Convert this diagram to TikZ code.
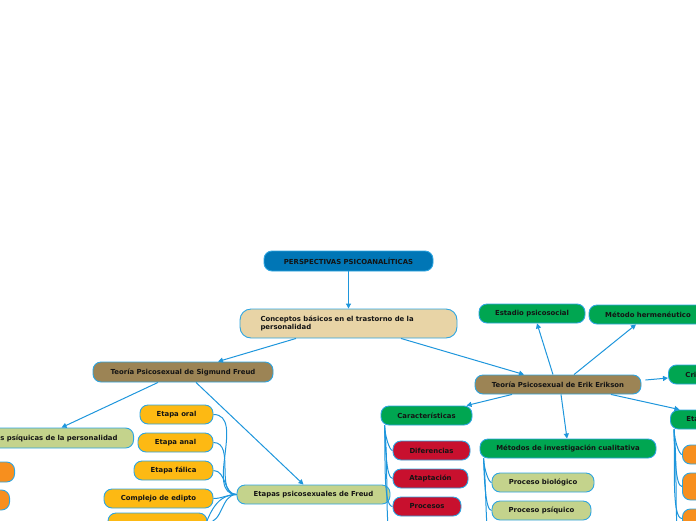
\documentclass[tikz,border=0pt]{standalone}
\usepackage{fontspec}
\setmainfont{DejaVu Sans}
\usetikzlibrary{arrows.meta}
\definecolor{cblue}{RGB}{0,118,182}
\definecolor{ctan}{RGB}{232,212,166}
\definecolor{cbrown}{RGB}{156,132,85}
\definecolor{clgreen}{RGB}{196,211,140}
\definecolor{cyellow}{RGB}{253,185,19}
\definecolor{corange}{RGB}{247,143,30}
\definecolor{cgreen}{RGB}{0,166,81}
\definecolor{cred}{RGB}{200,16,46}
\definecolor{cbord}{RGB}{45,165,225}
\definecolor{cline}{RGB}{30,150,220}
\definecolor{ctxt}{RGB}{20,20,20}
\tikzset{
  mm/.style={draw=cbord, line width=0.9pt, rounded corners=8pt, inner sep=0pt,
    minimum height=19pt, font=\fontsize{6.9}{8.6}\bfseries\selectfont, text=ctxt},
  arr/.style={draw=cline, line width=1pt, -{Triangle[length=5pt,width=5pt]}},
  lnk/.style={draw=cline, line width=1pt},
  sub/.style={lnk, out=-88, in=180, out looseness=1, in looseness=0.3},
  stg/.style={lnk, out=180, in=0}
}
\begin{document}
\begin{tikzpicture}[x=1pt,y=-1pt]
\useasboundingbox (0,0) rectangle (696,520);

% main nodes
\node[mm, fill=cblue, minimum width=169pt, minimum height=20pt] (pp) at (348.5,261) {PERSPECTIVAS PSICOANALÍTICAS};
\node[mm, fill=ctan, minimum width=217pt, minimum height=29pt, rounded corners=11pt, text width=176pt, align=left] (co) at (348.5,323.5) {Conceptos básicos en el trastorno de la\\personalidad};
\node[mm, fill=cbrown, minimum width=180pt, minimum height=20pt] (fr) at (183,372) {Teoría Psicosexual de Sigmund Freud};
\node[mm, fill=cbrown, minimum width=166pt] (er) at (558,384.5) {Teoría Psicosexual de Erik Erikson};

% Freud branch
\node[mm, fill=clgreen, anchor=east, text width=184pt, align=right, inner xsep=16pt, minimum height=20pt] (psi) at (134,438) {s psíquicas de la personalidad};
\node[mm, fill=corange, anchor=east, minimum width=40pt, minimum height=20pt] (o1) at (15,472) {};
\node[mm, fill=corange, anchor=east, minimum width=40pt, minimum height=20pt] (o2) at (10,500) {};
\node[mm, fill=clgreen, minimum width=153pt] (et) at (313.5,494.5) {Etapas psicosexuales de Freud};
\node[mm, fill=cyellow, minimum width=73pt] (y1) at (176.5,414.5) {Etapa oral};
\node[mm, fill=cyellow, minimum width=75pt] (y2) at (175.5,442.5) {Etapa anal};
\node[mm, fill=cyellow, minimum width=79pt] (y3) at (173.5,470.5) {Etapa fálica};
\node[mm, fill=cyellow, minimum width=109pt] (y4) at (158.5,498.5) {Complejo de edipto};
\node[mm, fill=cyellow, minimum width=99pt] (y5) at (157.5,522.5) {};
\coordinate (yx) at (200,540);

% Erikson branch
\node[mm, fill=cgreen, minimum width=106pt] (es) at (532,313.5) {Estadio psicosocial};
\node[mm, fill=cgreen, minimum width=118pt] (mh) at (648,314.5) {Método hermenéutico};
\node[mm, fill=cgreen, anchor=west, text width=40pt, align=left, inner xsep=17pt] (cr) at (668,374.5) {Cri};
\node[mm, fill=cgreen, anchor=west, text width=40pt, align=left, inner xsep=16pt] (ea) at (670,419.5) {Eta};
\node[mm, fill=corange, anchor=west, minimum width=40pt] (r1) at (682,454.5) {};
\node[mm, fill=corange, anchor=west, minimum width=40pt, minimum height=27pt] (r2) at (682,486.5) {};
\node[mm, fill=corange, anchor=west, minimum width=40pt] (r3) at (682,518.5) {};
\coordinate (rx) at (678,540);

\node[mm, fill=cgreen, minimum width=91pt] (car) at (426.5,415.5) {Características};
\node[mm, fill=cred, minimum width=77pt] (d1) at (431.5,450.5) {Diferencias};
\node[mm, fill=cred, minimum width=75pt] (d2) at (430.5,478.5) {Ataptación};
\node[mm, fill=cred, minimum width=68pt] (d3) at (427,506.5) {Procesos};
\coordinate (dx) at (389,540);

\node[mm, fill=cgreen, minimum width=176pt] (met) at (568,448.5) {Métodos de investigación cualitativa};
\node[mm, fill=clgreen, minimum width=102pt] (m1) at (543,482.5) {Proceso biológico};
\node[mm, fill=clgreen, minimum width=99pt] (m2) at (541.5,510.5) {Proceso psíquico};
\coordinate (mx) at (488,540);

% arrows
\draw[arr] (pp.south) -- (co.north);
\draw[arr] ([xshift=-52.5pt]co.south) -- ([xshift=35pt]fr.north);
\draw[arr] ([xshift=52.5pt]co.south) -- ([xshift=-34pt]er.north);
\draw[arr] ([xshift=-25pt]fr.south) -- ([xshift=36pt]psi.north);
\draw[arr] ([xshift=13pt]fr.south) -- ([xshift=-10pt]et.north);
\draw[arr] ([xshift=-5pt]er.north) -- ([xshift=5pt]es.south);
\draw[arr] ([xshift=16pt]er.north) -- ([xshift=-12pt]mh.south);
\draw[arr] ([xshift=4pt,yshift=4.5pt]er.east) -- ([yshift=-3.5pt]cr.west);
\draw[arr] ([xshift=53pt]er.south) -- ([xshift=-27pt]ea.north);
\draw[arr] ([xshift=-46pt]er.south) -- ([xshift=40pt]car.north);
\draw[arr] ([xshift=3pt]er.south) -- ([xshift=-1pt]met.north);

% sub connectors
\foreach \c in {y1,y2,y3,y4,y5} \draw[stg] (et.west) to (\c.east);
\draw[lnk] (et.west) to[out=180,in=70] (yx);
\foreach \c in {d1,d2,d3} \draw[sub] ([xshift=4pt]car.south west) to (\c.west);
\draw[lnk] ([xshift=4pt]car.south west) to[out=-85,in=95] (dx);
\foreach \c in {m1,m2} \draw[sub] ([xshift=4pt]met.south west) to (\c.west);
\draw[lnk] ([xshift=4pt]met.south west) to[out=-85,in=95] (mx);
\foreach \c in {r1,r2,r3} \draw[sub] ([xshift=4pt]ea.south west) to (\c.west);
\draw[lnk] ([xshift=4pt]ea.south west) to[out=-85,in=95] (rx);
\end{tikzpicture}
\end{document}
